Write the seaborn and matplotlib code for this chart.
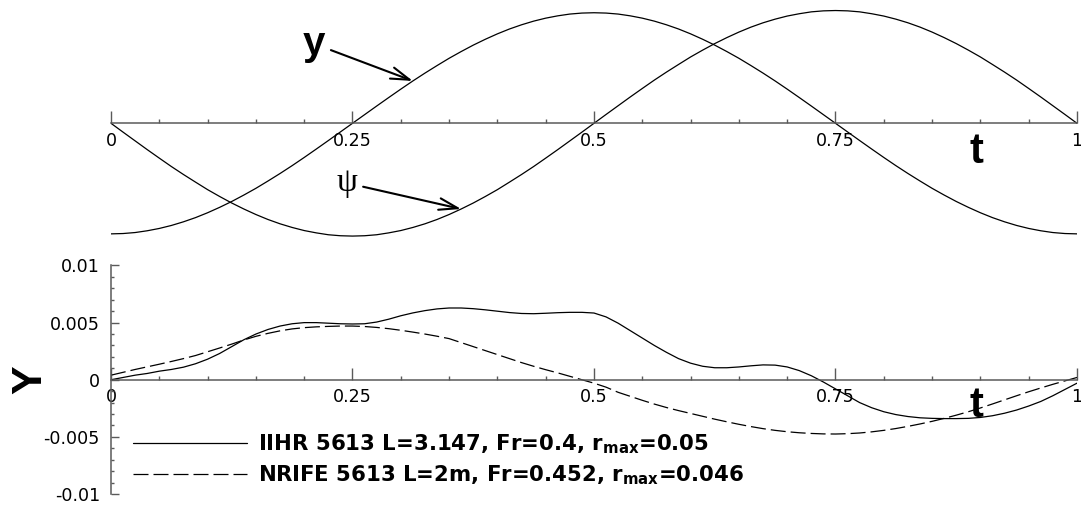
import numpy as np
import pandas as pd
import matplotlib.pyplot as plt
import matplotlib.ticker as mticker
import seaborn as sns

# -----------------------------------------------------------------------------
# Style
# -----------------------------------------------------------------------------
sns.set_theme(style="ticks")
plt.rcParams["font.family"] = ["Liberation Sans", "DejaVu Sans"]
plt.rcParams["text.color"] = "black"
plt.rcParams["axes.unicode_minus"] = False
plt.rcParams["lines.scale_dashes"] = False
plt.rcParams["mathtext.fontset"] = "dejavusans"

grey = "#5a5a5a"

# -----------------------------------------------------------------------------
# Data
# -----------------------------------------------------------------------------
t_top = np.linspace(0, 1, 81)

# upper panel: heave y and pitch psi (normalised)
y_motion = [-1.0, -0.997, -0.988, -0.972, -0.951, -0.924, -0.891, -0.853, -0.809, -0.760,
            -0.707, -0.649, -0.588, -0.522, -0.454, -0.383, -0.309, -0.233, -0.156, -0.078,
            0.0, 0.078, 0.156, 0.233, 0.309, 0.383, 0.454, 0.522, 0.588, 0.649,
            0.707, 0.760, 0.809, 0.853, 0.891, 0.924, 0.951, 0.972, 0.988, 0.997,
            1.0, 0.997, 0.988, 0.972, 0.951, 0.924, 0.891, 0.853, 0.809, 0.760,
            0.707, 0.649, 0.588, 0.522, 0.454, 0.383, 0.309, 0.233, 0.156, 0.078,
            0.0, -0.078, -0.156, -0.233, -0.309, -0.383, -0.454, -0.522, -0.588, -0.649,
            -0.707, -0.760, -0.809, -0.853, -0.891, -0.924, -0.951, -0.972, -0.988, -0.997,
            -1.0]
psi_motion = [0.0, -0.080, -0.159, -0.238, -0.315, -0.391, -0.463, -0.532, -0.600, -0.662,
              -0.721, -0.775, -0.825, -0.870, -0.909, -0.942, -0.970, -0.991, -1.008, -1.017,
              -1.02, -1.017, -1.008, -0.991, -0.970, -0.942, -0.909, -0.870, -0.825, -0.775,
              -0.721, -0.662, -0.600, -0.532, -0.463, -0.391, -0.315, -0.238, -0.159, -0.080,
              0.0, 0.080, 0.159, 0.238, 0.315, 0.391, 0.463, 0.532, 0.600, 0.662,
              0.721, 0.775, 0.825, 0.870, 0.909, 0.942, 0.970, 0.991, 1.008, 1.017,
              1.02, 1.017, 1.008, 0.991, 0.970, 0.942, 0.909, 0.870, 0.825, 0.775,
              0.721, 0.662, 0.600, 0.532, 0.463, 0.391, 0.315, 0.238, 0.159, 0.080,
              0.0]

# lower panel: force Y, sampled every 0.0125 in t
t_bot = np.linspace(0, 1, 81)
Y_iihr = [0.00000, 0.00020, 0.00040, 0.00055, 0.00075, 0.00090, 0.00110, 0.00140, 0.00180, 0.00230,
          0.00290, 0.00350, 0.00400, 0.00440, 0.00470, 0.00490, 0.00500, 0.00500, 0.00495, 0.00490,
          0.00488, 0.00490, 0.00505, 0.00530, 0.00560, 0.00585, 0.00605, 0.00620, 0.00628, 0.00628,
          0.00622, 0.00612, 0.00600, 0.00588, 0.00580, 0.00578, 0.00582, 0.00587, 0.00590, 0.00590,
          0.00584, 0.00550, 0.00495, 0.00430, 0.00365, 0.00300, 0.00240, 0.00185, 0.00145, 0.00118,
          0.00105, 0.00105, 0.00112, 0.00122, 0.00130, 0.00128, 0.00112, 0.00080, 0.00035, -0.00020,
          -0.00080, -0.00140, -0.00200, -0.00245, -0.00280, -0.00305, -0.00322, -0.00333, -0.00338, -0.00340,
          -0.00340, -0.00338, -0.00330, -0.00315, -0.00293, -0.00265, -0.00230, -0.00190, -0.00140, -0.00085,
          -0.00030]
Y_nrife = [0.00040, 0.00065, 0.00090, 0.00113, 0.00136, 0.00160, 0.00185, 0.00212, 0.00245, 0.00278,
           0.00312, 0.00348, 0.00380, 0.00406, 0.00428, 0.00445, 0.00456, 0.00463, 0.00467, 0.00470,
           0.00470, 0.00466, 0.00458, 0.00447, 0.00433, 0.00417, 0.00400, 0.00381, 0.00360, 0.00325,
           0.00290, 0.00255, 0.00220, 0.00185, 0.00150, 0.00118, 0.00088, 0.00060, 0.00030, 0.00000,
           -0.00030, -0.00065, -0.00110, -0.00145, -0.00180, -0.00213, -0.00243, -0.00270, -0.00295, -0.00320,
           -0.00345, -0.00368, -0.00390, -0.00410, -0.00428, -0.00443, -0.00455, -0.00464, -0.00470, -0.00474,
           -0.00475, -0.00472, -0.00466, -0.00456, -0.00443, -0.00427, -0.00408, -0.00387, -0.00364, -0.00338,
           -0.00310, -0.00280, -0.00247, -0.00212, -0.00176, -0.00140, -0.00105, -0.00072, -0.00040, -0.00010,
           0.00020]

label_iihr = r"IIHR 5613 L=3.147, Fr=0.4, r$_{\mathbf{max}}$=0.05"
label_nrife = r"NRIFE 5613 L=2m, Fr=0.452, r$_{\mathbf{max}}$=0.046"

df_top = pd.DataFrame({"t": t_top, "y": y_motion, "psi": psi_motion})
df_bot = pd.DataFrame({"t": t_bot, "iihr": Y_iihr, "nrife": Y_nrife})


def fmt(v, _):
    v = round(v, 6)
    return "0" if v == 0 else f"{v:g}"


tick_font = {"family": "DejaVu Sans", "size": 12.6}

# -----------------------------------------------------------------------------
# Figure
# -----------------------------------------------------------------------------
fig = plt.figure(figsize=(10.81, 5.07), dpi=100)

# upper panel ---------------------------------------------------------------
ax1 = fig.add_axes([0.10268, 0.530, 0.89362, 0.4536])
sns.lineplot(data=df_top, x="t", y="y", color="black", lw=0.9, ax=ax1, legend=False)
sns.lineplot(data=df_top, x="t", y="psi", color="black", lw=0.9, ax=ax1, legend=False)
ax1.set_xlim(0, 1)
ax1.set_ylim(-1.04, 1.04)
for s in ["left", "right", "top"]:
    ax1.spines[s].set_visible(False)
ax1.spines["bottom"].set_position(("data", 0))

ax1.set_yticks([])
ax1.set(xlabel="", ylabel="")

ax1.annotate("y", xy=(t_top[25], y_motion[25]), xytext=(0.21, 0.72),
             fontsize=29, fontweight="bold", ha="center", va="center",
             arrowprops=dict(arrowstyle="->,head_length=0.9,head_width=0.28",
                             lw=1.5, color="black", mutation_scale=15, shrinkB=0))
ax1.annotate("ψ", xy=(t_top[29], psi_motion[29]), xytext=(0.244, -0.54),
             fontsize=24, family=["Liberation Serif", "DejaVu Serif"],
             ha="center", va="center",
             arrowprops=dict(arrowstyle="->,head_length=0.9,head_width=0.28",
                             lw=1.5, color="black", mutation_scale=15, shrinkB=0))
ax1.text(0.8954, -0.26, "t", fontsize=30, fontweight="bold", ha="center", va="center")

# lower panel ---------------------------------------------------------------
ax2 = fig.add_axes([0.10268, 0.02564, 0.89362, 0.4507])
sns.lineplot(data=df_bot, x="t", y="iihr", color="black", lw=0.9, ax=ax2, label=label_iihr)
sns.lineplot(data=df_bot, x="t", y="nrife", color="black", lw=0.9, ax=ax2, label=label_nrife)
ax2.lines[1].set_dashes((10.8, 3.6))
ax2.set_xlim(0, 1)
ax2.set_ylim(-0.01, 0.01)
for s in ["right", "top"]:
    ax2.spines[s].set_visible(False)
ax2.spines["bottom"].set_position(("data", 0))
ax2.set(xlabel="", ylabel="")

ax2.yaxis.set_major_locator(mticker.MultipleLocator(0.005))
ax2.yaxis.set_minor_locator(mticker.MultipleLocator(0.001))
ax2.yaxis.set_major_formatter(mticker.FuncFormatter(fmt))
ax2.tick_params(axis="y", which="major", direction="in", length=5.5, width=1,
                color=grey, labelcolor="black", pad=8)
ax2.tick_params(axis="y", which="minor", direction="in", length=2.2, width=1, color=grey)

ax2.text(-0.084, 0.499, "Y", transform=ax2.transAxes, rotation=90, fontsize=31,
         fontweight="bold", ha="center", va="center")
ax2.text(0.8954, -0.00232, "t", fontsize=30, fontweight="bold", ha="center", va="center")

leg = ax2.legend(handles=ax2.lines[:2], labels=[label_iihr, label_nrife],
                 loc="upper left", bbox_to_anchor=(0.0225, 0.268), frameon=False,
                 handlelength=5.39, handletextpad=0.5, labelspacing=0.33,
                 borderpad=0, borderaxespad=0,
                 prop={"family": "DejaVu Sans", "weight": "bold", "size": 15.3})
for txt in leg.get_texts():
    txt.set_color("black")

# shared axis styling
for ax in (ax1, ax2):
    ax.spines["bottom"].set_color(grey)
    ax.spines["bottom"].set_linewidth(1.1)
    ax.spines["left"].set_color(grey)
    ax.spines["left"].set_linewidth(1.1)
    ax.xaxis.set_major_locator(mticker.MultipleLocator(0.25))
    ax.xaxis.set_minor_locator(mticker.MultipleLocator(0.05))
    ax.xaxis.set_major_formatter(mticker.FuncFormatter(fmt))
    ax.tick_params(axis="x", which="major", direction="in", length=9, width=1,
                   color=grey, labelcolor="black", pad=6)
    ax.tick_params(axis="x", which="minor", direction="in", length=3, width=1, color=grey)
    for lab in ax.get_xticklabels() + ax.get_yticklabels():
        lab.set_fontproperties(tick_font)
    ax.patch.set_alpha(0)

fig.savefig("out.png", dpi=100)
